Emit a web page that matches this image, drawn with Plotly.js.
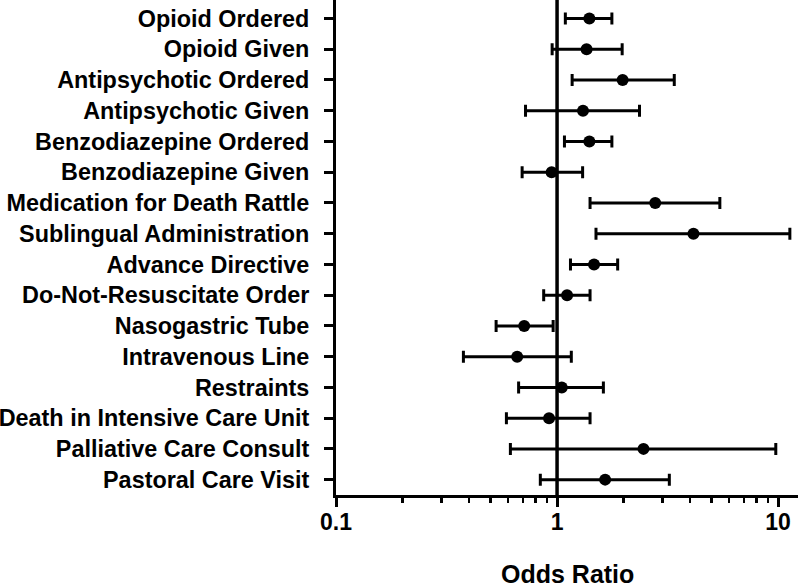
<!DOCTYPE html>
<html>
<head>
<meta charset="utf-8">
<script src="https://cdn.plot.ly/plotly-3.0.1.min.js"></script>
<style>html,body{margin:0;padding:0;background:#fff;}#chart{width:799px;height:587px;}</style>
</head>
<body>
<div id="chart"></div>
<script>
const categories = [
  "Opioid Ordered", "Opioid Given", "Antipsychotic Ordered", "Antipsychotic Given",
  "Benzodiazepine Ordered", "Benzodiazepine Given", "Medication for Death Rattle",
  "Sublingual Administration", "Advance Directive", "Do-Not-Resuscitate Order",
  "Nasogastric Tube", "Intravenous Line", "Restraints", "Death in Intensive Care Unit",
  "Palliative Care Consult", "Pastoral Care Visit"
];
const oddsRatio = [1.40, 1.36, 1.98, 1.31, 1.40, 0.945, 2.78, 4.14, 1.47, 1.11, 0.71, 0.66, 1.05, 0.92, 2.46, 1.65];
const ciLow     = [1.09, 0.95, 1.17, 0.72, 1.08, 0.695, 1.41, 1.50, 1.15, 0.87, 0.53, 0.377, 0.67, 0.59, 0.615, 0.84];
const ciHigh    = [1.77, 1.97, 3.39, 2.36, 1.77, 1.305, 5.45, 11.3, 1.88, 1.41, 0.96, 1.16, 1.62, 1.41, 9.76, 3.22];
const xTickVals = [0.1, 1, 10];
const xTickText = ["0.1", "1", "10"];
const xMinorTicks = [0.2,0.3,0.4,0.5,0.6,0.7,0.8,0.9,2,3,4,5,6,7,8,9];
const xTitle = "Odds Ratio";

const fontFam = "Liberation Sans, Arial, Helvetica, sans-serif";

const trace = {
  type: "scatter",
  mode: "markers",
  x: oddsRatio,
  y: categories,
  marker: {size: 12, color: "#000"},
  error_x: {
    type: "data",
    symmetric: false,
    array: oddsRatio.map((v, i) => ciHigh[i] - v),
    arrayminus: oddsRatio.map((v, i) => v - ciLow[i]),
    color: "#000",
    thickness: 3,
    width: 6
  },
  cliponaxis: false,
  hoverinfo: "x+y"
};

const layout = {
  width: 799,
  height: 587,
  margin: {l: 336, r: 1, t: 0, b: 92},
  paper_bgcolor: "#fff",
  plot_bgcolor: "#fff",
  showlegend: false,
  font: {family: fontFam, color: "#000", size: 22, weight: "bold"},
  xaxis: {
    type: "log",
    range: [-1, Math.log10(12.3)],
    tickmode: "array",
    tickvals: xTickVals,
    ticktext: xTickText,
    ticks: "outside",
    ticklen: 9,
    tickwidth: 3,
    tickcolor: "#000",
    showline: true,
    linewidth: 3,
    linecolor: "#000",
    showgrid: false,
    zeroline: false,
    ticklabelstandoff: -5,
    tickfont: {family: fontFam, size: 23, color: "#000", weight: "bold"},
    minor: {tickmode: "array", tickvals: xMinorTicks, ticks: "outside", ticklen: 5, tickwidth: 2.5, tickcolor: "#000", showgrid: false}
  },
  yaxis: {
    type: "category",
    categoryorder: "array",
    categoryarray: categories,
    range: [15.5, -0.6],
    ticks: "outside",
    ticklen: 9,
    tickwidth: 3,
    tickcolor: "#000",
    showline: true,
    linewidth: 3,
    linecolor: "#000",
    showgrid: false,
    zeroline: false,
    ticklabelstandoff: 10,
    tickfont: {family: fontFam, size: 23.4, color: "#000", weight: "bold"}
  },
  annotations: [{
    text: xTitle, xref: "paper", yref: "paper", x: 0.5, y: -0.16,
    xanchor: "center", yanchor: "middle", showarrow: false, borderpad: 0,
    font: {family: fontFam, size: 25, color: "#000", weight: "bold"}
  }],
  shapes: [{
    type: "line", xref: "x", yref: "paper",
    x0: 1, x1: 1, y0: 0, y1: 1,
    line: {color: "#000", width: 3.5}
  }]
};

Plotly.newPlot("chart", [trace], layout, {displayModeBar: false, staticPlot: true});
</script>
</body>
</html>
